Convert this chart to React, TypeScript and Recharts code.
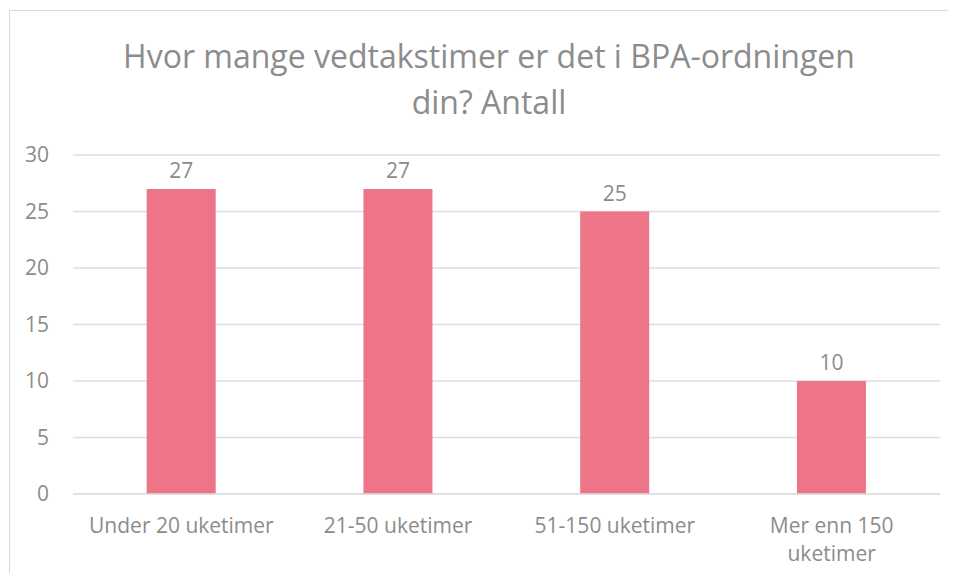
import { BarChart, Bar, XAxis, YAxis, CartesianGrid, LabelList } from "recharts";

const categories = ["Under 20 uketimer", "21-50 uketimer", "51-150 uketimer", "Mer enn 150 uketimer"];
const antall = [27, 27, 25, 10];
const yTicks = [0, 5, 10, 15, 20, 25, 30];

const title = "Hvor mange vedtakstimer er det i BPA-ordningen din? Antall";

const chartData = categories.map((name, i) => ({ name, antall: antall[i] }));

const FONT = "'Open Sans', sans-serif";
const GRAY = "#8c8c8c";
const GRID = "#dedede";

// greedy word wrap, like Excel does inside a category slot
const wrapLabel = (label: string, maxChars = 17) => {
  const lines: string[] = [];
  let cur = "";
  label.split(" ").forEach(word => {
    const next = cur ? cur + " " + word : word;
    if (next.length > maxChars && cur) {
      lines.push(cur);
      cur = word;
    } else {
      cur = next;
    }
  });
  if (cur) lines.push(cur);
  return lines;
};

const CategoryTick = ({ x, y, payload }: any) => (
  <text x={x} y={y} textAnchor="middle" fill={GRAY} fontSize={21} fontFamily={FONT}>
    {wrapLabel(String(payload.value)).map((line, i) => (
      <tspan key={i} x={x} dy={i === 0 ? "0.71em" : 28}>
        {line}
      </tspan>
    ))}
  </text>
);

export default function App() {
  return (
    <div style={{ position: "relative", width: 956, height: 581, margin: -8, overflow: "hidden", background: "#fff" }}>
      <div
        style={{
          position: "absolute",
          left: 9,
          top: 10,
          width: 1000,
          height: 700,
          border: "1px solid #d9d9d9",
        }}
      />
      <div
        style={{
          position: "absolute",
          left: 99,
          width: 780,
          top: 33,
          textAlign: "center",
          fontFamily: FONT,
          fontSize: 32,
          lineHeight: "46px",
          color: GRAY,
        }}
      >
        {title}
      </div>
      <div style={{ position: "absolute", left: 0, top: 0 }}>
        <BarChart
          width={956}
          height={581}
          data={chartData}
          margin={{ top: 155, right: 16, bottom: 27, left: 0 }}
          barCategoryGap="34%"
        >
          <CartesianGrid vertical={false} stroke={GRID} strokeWidth={1.5} />
          <XAxis
            dataKey="name"
            axisLine={{ stroke: GRID, strokeWidth: 1.5 }}
            tickLine={false}
            height={60}
            tickMargin={18}
            interval={0}
            tick={(props: any) => <CategoryTick {...props} />}
          />
          <YAxis
            width={73}
            domain={[0, 30]}
            ticks={yTicks}
            axisLine={false}
            tickLine={false}
            tickMargin={18}
            tick={{ fill: GRAY, fontSize: 21, fontFamily: FONT }}
          />
          <Bar dataKey="antall" fill="#EE7488" isAnimationActive={false}>
            <LabelList
              dataKey="antall"
              position="top"
              offset={11}
              fill={GRAY}
              fontSize={21}
              fontFamily={FONT}
            />
          </Bar>
        </BarChart>
      </div>
    </div>
  );
}
